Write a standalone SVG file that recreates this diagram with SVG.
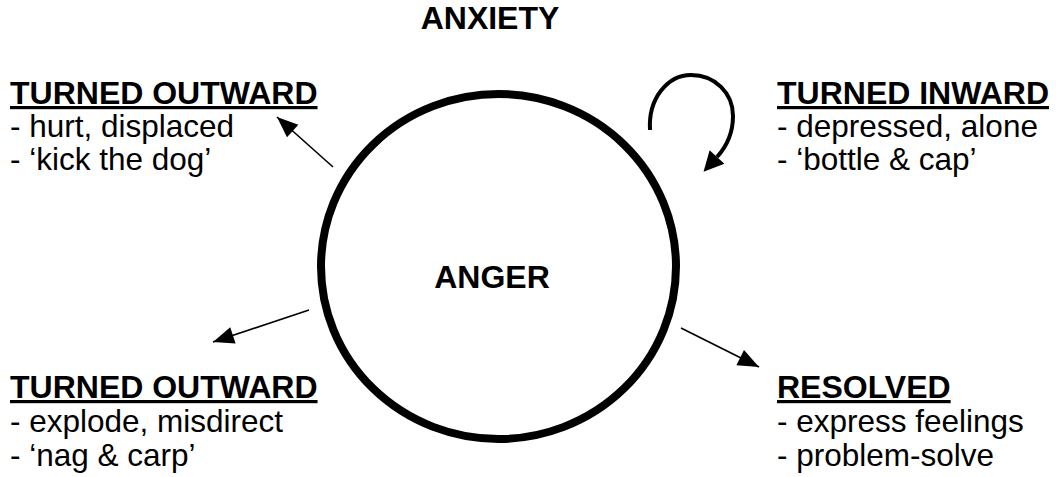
<svg xmlns="http://www.w3.org/2000/svg" width="1056" height="477" viewBox="0 0 1056 477">
  <style>
    text { font-family: "Liberation Sans", Arial, sans-serif; fill: #000; }
    .h { font-weight: bold; font-size: 32px; }
    .hu { font-weight: bold; font-size: 32px; text-decoration: underline; }
    .b { font-size: 31.5px; }
    .conn { stroke: #000; stroke-width: 1.6; fill: none; marker-end: url(#head); }
  </style>
  <defs>
    <marker id="head" markerUnits="userSpaceOnUse" markerWidth="22" markerHeight="18" refX="21" refY="8.5" orient="auto" overflow="visible">
      <path d="M0,0 L21,8.5 L0,17 z" fill="#000"/>
    </marker>
    <marker id="headc" markerUnits="userSpaceOnUse" markerWidth="22" markerHeight="22" refX="0" refY="10" orient="auto" overflow="visible">
      <path d="M0,0 L20,10 L0,20 z" fill="#000"/>
    </marker>
  </defs>
  <rect width="1056" height="477" fill="#fff"/>

  <g id="anxiety">
    <text class="h" x="490" y="29" text-anchor="middle">ANXIETY</text>
  </g>

  <g id="anger">
    <ellipse cx="498.5" cy="266.5" rx="177.5" ry="172.5" fill="none" stroke="#000" stroke-width="8"/>
    <text class="h" x="492" y="288" text-anchor="middle">ANGER</text>
  </g>

  <g id="turned-outward-top">
    <text class="hu" x="10" y="104">TURNED OUTWARD</text>
    <text class="b" x="10" y="137">- hurt, displaced</text>
    <text class="b" x="10" y="170">- ‘kick the dog’</text>
  </g>

  <g id="turned-inward">
    <text class="hu" x="777" y="104">TURNED INWARD</text>
    <text class="b" x="777" y="137">- depressed, alone</text>
    <text class="b" x="777" y="170">- ‘bottle &amp; cap’</text>
  </g>

  <g id="turned-outward-bottom">
    <text class="hu" x="10" y="398">TURNED OUTWARD</text>
    <text class="b" x="10" y="432">- explode, misdirect</text>
    <text class="b" x="10" y="466">- ‘nag &amp; carp’</text>
  </g>

  <g id="resolved">
    <text class="hu" x="777" y="398">RESOLVED</text>
    <text class="b" x="777" y="432">- express feelings</text>
    <text class="b" x="777" y="466">- problem-solve</text>
  </g>

  <g id="connectors">
    <line class="conn" x1="333" y1="167" x2="277" y2="117"/>
    <line class="conn" x1="309" y1="310" x2="213" y2="342"/>
    <line class="conn" x1="681" y1="328" x2="759" y2="367"/>
    <path d="M650,130 C648,98 668,75 691,75 C715,75 733,93 733,116 C733,133 727,146 717,157" fill="none" stroke="#000" stroke-width="4" marker-end="url(#headc)"/>
  </g>
</svg>
